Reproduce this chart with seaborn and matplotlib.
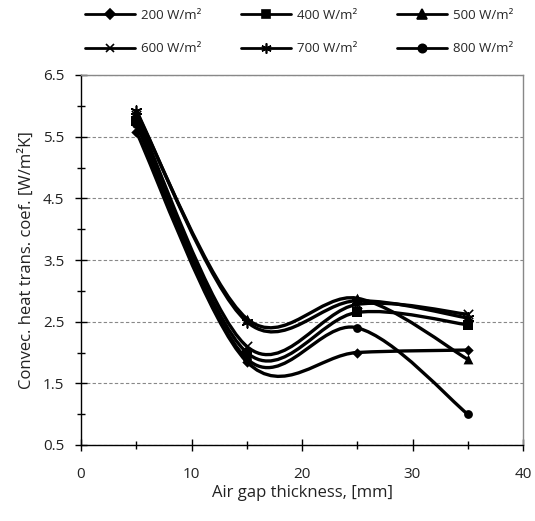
import matplotlib
matplotlib.use("Agg")
import matplotlib.pyplot as plt
import seaborn as sns
import numpy as np
import pandas as pd
from matplotlib.path import Path
from matplotlib.patches import PathPatch
from matplotlib.lines import Line2D
from matplotlib.ticker import MultipleLocator

# ---- data ----
gap_mm = [5, 15, 25, 35]
series_labels = ["200 W/m²", "400 W/m²", "500 W/m²", "600 W/m²", "700 W/m²", "800 W/m²"]
h_200 = [5.58, 1.85, 2.00, 2.04]
h_400 = [5.75, 2.00, 2.65, 2.45]
h_500 = [5.90, 2.55, 2.88, 1.89]
h_600 = [5.85, 2.10, 2.78, 2.62]
h_700 = [5.92, 2.50, 2.84, 2.56]
h_800 = [5.70, 1.90, 2.40, 1.00]
series_values = [h_200, h_400, h_500, h_600, h_700, h_800]
x_ticks = [0, 10, 20, 30, 40]
y_ticks = [0.5, 1.5, 2.5, 3.5, 4.5, 5.5, 6.5]

markers = ["D", "s", "^", "x", (6, 2, 0), "o"]
msizes = [28, 45, 50, 45, 60, 40]

sns.set_style("white")
plt.rcParams["font.family"] = ["Open Sans", "DejaVu Sans"]

fig = plt.figure(figsize=(5.35, 5.21), dpi=100)
ax = fig.add_axes([81/535, 1-445/521, (523-81)/535, (445-75)/521])

rows = []
for lab, vals in zip(series_labels, series_values):
    for xv, yv in zip(gap_mm, vals):
        rows.append({"gap": xv, "h": yv, "series": lab})
df = pd.DataFrame(rows)


def smooth_path(xs, ys):
    pts = np.column_stack([xs, ys]).astype(float)
    n = len(pts)
    verts = [pts[0]]
    codes = [Path.MOVETO]
    for i in range(n - 1):
        p0 = pts[i - 1] if i > 0 else pts[i]
        p1 = pts[i]
        p2 = pts[i + 1]
        p3 = pts[i + 2] if i + 2 < n else pts[i + 1]
        c1 = p1 + (p2 - p0) / 6.0
        c2 = p2 - (p3 - p1) / 6.0
        verts += [c1, c2, p2]
        codes += [Path.CURVE4] * 3
    return Path(verts, codes)


for vals in series_values:
    patch = PathPatch(smooth_path(gap_mm, vals), facecolor="none",
                      edgecolor="black", lw=2.4, zorder=3, capstyle="round")
    ax.add_patch(patch)

for lab, m, s in zip(series_labels, markers, msizes):
    sub = df[df["series"] == lab]
    lw = 1.2 if m == "x" or isinstance(m, tuple) else 0
    sns.scatterplot(data=sub, x="gap", y="h", marker=m, s=s, color="black",
                    edgecolor="black", linewidth=lw, ax=ax, zorder=4, legend=False)

ax.set_xlim(0, 40)
ax.set_ylim(0.5, 6.5)
ax.set_xticks(x_ticks)
ax.set_yticks(y_ticks)
ax.xaxis.set_minor_locator(MultipleLocator(5))
ax.yaxis.set_minor_locator(MultipleLocator(0.5))
ax.tick_params(which="major", direction="inout", length=8, width=1, color="black",
               labelsize=11, labelcolor="#222222", pad=12)
ax.tick_params(which="minor", direction="inout", length=6, width=1, color="black")
ax.tick_params(axis="y", which="both", left=True)
ax.tick_params(axis="x", which="both", bottom=True)
ax.tick_params(axis="y", which="major", pad=8)
ax.yaxis.grid(True, which="major", linestyle=(0, (3, 2)), color="#888888", lw=0.8)
ax.xaxis.grid(False)
ax.set_axisbelow(True)

for side in ["top", "right"]:
    ax.spines[side].set_color("#888888")
    ax.spines[side].set_linewidth(1.0)
for side in ["left", "bottom"]:
    ax.spines[side].set_color("black")
    ax.spines[side].set_linewidth(1.0)

ax.set_xlabel("Air gap thickness, [mm]", fontsize=12, color="#222222", labelpad=2)
ax.set_ylabel("Convec. heat trans. coef. [W/m²K]", fontsize=12, color="#222222", labelpad=6)

handles = []
for lab, m, s in zip(series_labels, markers, msizes):
    handles.append(Line2D([0], [0], color="black", lw=2, marker=m,
                          markersize=np.sqrt(s) * 0.95, markeredgewidth=1.2,
                          markerfacecolor="black", markeredgecolor="black", label=lab))
# legend fills column by column: reorder so rows read 200,400,500 / 600,700,800
order = [0, 3, 1, 4, 2, 5]
fig.legend(handles=[handles[i] for i in order], loc="upper left",
           bbox_to_anchor=(85/535, 1 - 9/521), ncol=3,
           frameon=False, fontsize=9.5, handlelength=3.8, handletextpad=0.45,
           columnspacing=3.0, labelspacing=1.55, borderpad=0, borderaxespad=0)

fig.savefig("out.png", dpi=100)
